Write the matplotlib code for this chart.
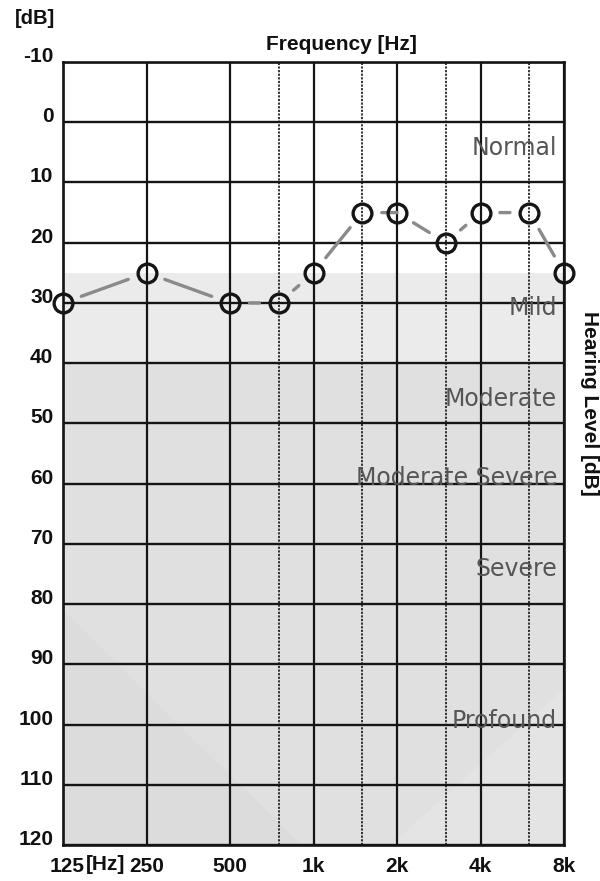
import matplotlib
matplotlib.use("Agg")
import matplotlib.pyplot as plt
from matplotlib.patches import Polygon
from matplotlib.transforms import ScaledTranslation

# ---- data ----
freqs = [125, 250, 500, 750, 1000, 1500, 2000, 3000, 4000, 6000, 8000]
levels = [30, 25, 30, 30, 25, 15, 15, 20, 15, 15, 25]

major_freqs = [125, 250, 500, 1000, 2000, 4000, 8000]
major_labels = ["125", "250", "500", "1k", "2k", "4k", "8k"]
minor_freqs = [750, 1500, 3000, 6000]
db_ticks = list(range(-10, 121, 10))

categories = ["Normal", "Mild", "Moderate", "Moderate Severe", "Severe", "Profound"]
category_label_db = [5.4, 32, 47.1, 60.2, 75.3, 100.6]
band_edges = [25, 40, 120]
band_colors = ["#ebebeb", "#e0e0e0"]

fig = plt.figure(figsize=(6.0, 8.81), dpi=100)
ax = fig.add_axes([63/600, 1-845/881, (564-63)/600, (845-62)/881])
ax.set_xscale("log", base=2)
ax.set_xlim(125, 8000)
ax.set_ylim(120, -10)

# shaded bands
for (lo, hi), c in zip(zip(band_edges[:-1], band_edges[1:]), band_colors):
    ax.axhspan(lo, hi, color=c, lw=0, zorder=0)
# subtle background triangles (print artefacts)
ax.add_patch(Polygon([(125, 81), (125, 120), (900, 120)], closed=True,
                     facecolor="#dcdcdc", edgecolor="none", zorder=0.5))
ax.add_patch(Polygon([(1900, 120), (8000, 94), (8000, 120)], closed=True,
                     facecolor="#e4e4e4", edgecolor="none", zorder=0.5))

# grid
for f in major_freqs:
    ax.axvline(f, color="#151515", lw=1.6, zorder=1)
for f in minor_freqs:
    ax.axvline(f, color="#222222", lw=1.3, ls=(0, (1.2, 0.8)), zorder=1)
for d in db_ticks:
    ax.axhline(d, color="#151515", lw=1.7, zorder=1)

for s in ax.spines.values():
    s.set_color("#151515")
    s.set_linewidth(1.9)

# category labels
for name, d in zip(categories, category_label_db):
    ax.text(0.986, d, name, transform=ax.get_yaxis_transform(),
            ha="right", va="baseline", fontsize=17, color="#555555",
            family="DejaVu Sans", zorder=2)

# connecting line segments with gaps at the markers
for i in range(len(freqs) - 1):
    ax.annotate("", xy=(freqs[i+1], levels[i+1]), xytext=(freqs[i], levels[i]),
                arrowprops=dict(arrowstyle="-", color="#8a8a8a", lw=2.4,
                                shrinkA=14, shrinkB=14), zorder=3)
ax.plot(freqs, levels, ls="none", marker="o", ms=13.5, mfc="none",
        mec="#151515", mew=2.4, zorder=4, clip_on=False)

# ticks
ax.set_xticks(major_freqs)
ax.set_xticklabels(major_labels)
ax.set_xticks([], minor=True)
ax.set_yticks(db_ticks)
ax.set_yticklabels([str(d) for d in db_ticks])
ax.tick_params(axis="both", length=0)
ax.tick_params(axis="x", pad=9)
ax.tick_params(axis="y", pad=7)
for lab in ax.get_xticklabels() + ax.get_yticklabels():
    lab.set_fontfamily("Liberation Sans")
    lab.set_fontweight("bold")
    lab.set_fontsize(15)
    lab.set_color("#111111")
for lab in ax.get_yticklabels():
    lab.set_verticalalignment("baseline")
xl = ax.get_xticklabels()
xl[0].set_transform(xl[0].get_transform() + ScaledTranslation(4/100, 0, fig.dpi_scale_trans))

fig.text(106/600, 1-865/881, "[Hz]", ha="center", va="center",
         fontsize=15, fontweight="bold", family="Liberation Sans", color="#111111")
fig.text(35/600, 1-19/881, "[dB]", ha="center", va="center",
         fontsize=14.5, fontweight="bold", family="Liberation Sans", color="#111111")
fig.text(341/600, 1-45/881, "Frequency [Hz]", ha="center", va="center",
         fontsize=15, fontweight="bold", family="Liberation Sans", color="#111111")
fig.text(589/600, 1-403/881, "Hearing Level [dB]", ha="center", va="center",
         rotation=270, fontsize=15, fontweight="bold", family="Liberation Sans",
         color="#111111")

fig.savefig("out.png", dpi=100)
